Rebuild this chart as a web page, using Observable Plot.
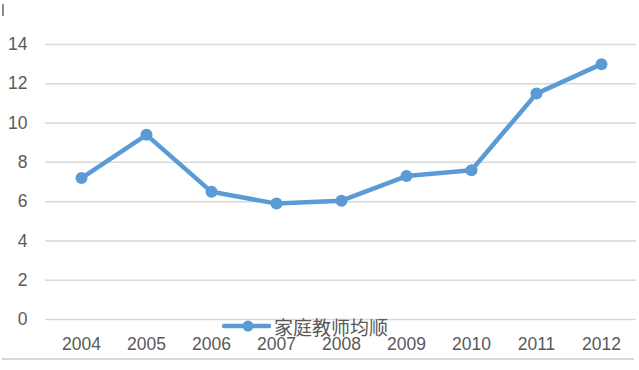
<!DOCTYPE html>
<html>
<head>
<meta charset="utf-8">
<script src="https://cdn.jsdelivr.net/npm/d3@7"></script>
<script src="https://cdn.jsdelivr.net/npm/@observablehq/plot@0.6"></script>
<style>
  html, body { margin: 0; padding: 0; background: #fff; }
  #wrap { position: relative; width: 639px; height: 370px; overflow: hidden; }
  #legend { position: absolute; left: 222px; top: 313px; height: 26px; display: flex; align-items: center;
    font-family: "Noto Sans CJK SC", sans-serif; font-size: 19px; color: #595959; background: transparent; }
  #legend svg { display: block; margin-right: 2px; }
  #corner { position: absolute; left: 2px; top: 4px; width: 2px; height: 12px; background: #8c8c8c; }
  #bottomline { position: absolute; left: 2px; top: 358px; width: 632px; height: 2px; background: #d9d9d9; }
</style>
</head>
<body>
<div id="wrap">
  <div id="chart"></div>
  <div id="corner"></div>
  <div id="bottomline"></div>
  <div id="legend"><svg width="50" height="16"><line x1="2" y1="8" x2="47" y2="8" stroke="#5B9BD5" stroke-width="4.5" stroke-linecap="round"/><circle cx="26" cy="8" r="5.5" fill="#5B9BD5"/></svg><span>家庭教师均顺</span></div>
</div>
<script>
const years = ["2004", "2005", "2006", "2007", "2008", "2009", "2010", "2011", "2012"];
const values = [7.2, 9.4, 6.5, 5.9, 6.05, 7.3, 7.6, 11.5, 13.0];
const yTicks = [0, 2, 4, 6, 8, 10, 12, 14];
const seriesName = "家庭教师均顺";

const data = years.map((y, i) => ({year: y, value: values[i], series: seriesName}));

const chart = Plot.plot({
  width: 639,
  height: 370,
  marginLeft: 45,
  marginRight: 3,
  marginTop: 44,
  marginBottom: 51,
  style: {fontFamily: "'Liberation Sans', Arial, sans-serif", fontSize: "17.5px", color: "#595959", background: "#fff"},
  x: {type: "point", domain: years, padding: 0.5, label: null, tickSize: 0, tickPadding: 18},
  y: {domain: [0, 14], ticks: yTicks, label: null, tickSize: 0, tickPadding: 18},
  marks: [
    Plot.ruleY(yTicks, {stroke: "#d9d9d9", strokeWidth: 1.5, dx: 0}),
    Plot.line(data, {x: "year", y: "value", stroke: "#5B9BD5", strokeWidth: 4.5, strokeLinejoin: "round", strokeLinecap: "round"}),
    Plot.dot(data, {x: "year", y: "value", r: 6, fill: "#5B9BD5", stroke: "none"})
  ]
});
document.getElementById("chart").appendChild(chart);
</script>
</body>
</html>
